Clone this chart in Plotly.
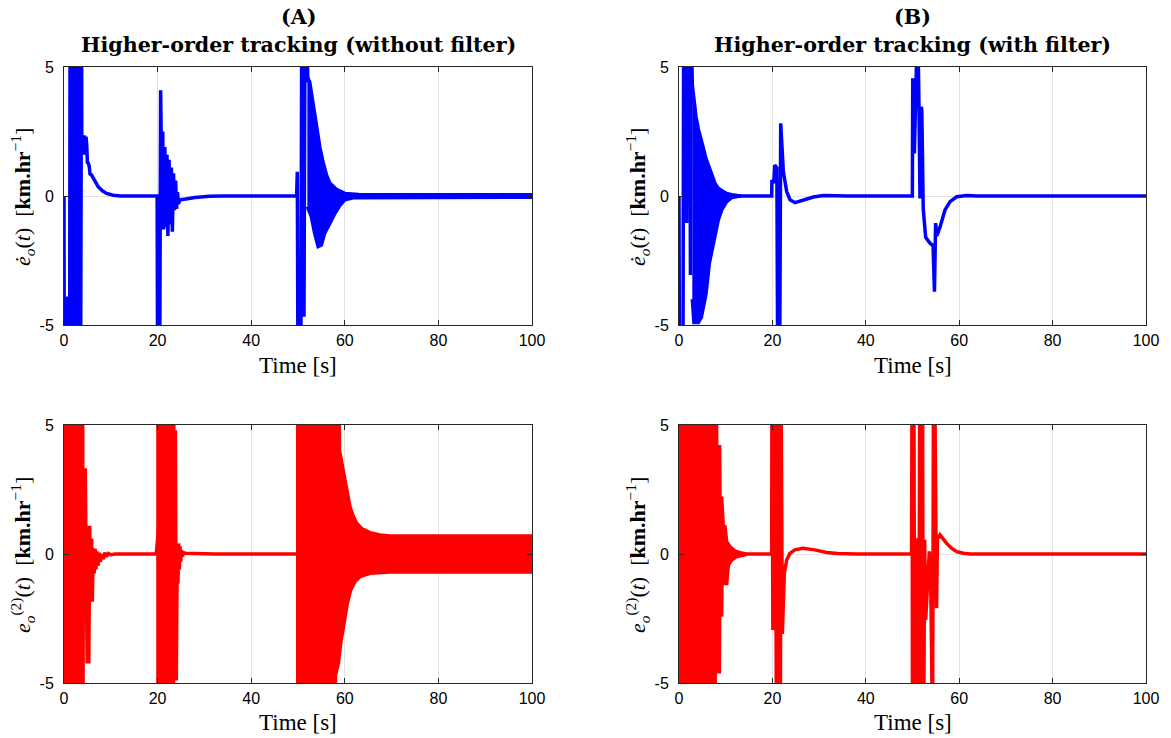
import plotly.graph_objects as go

# ---------------- Data ----------------
BLUE = "#0000FF"
RED = "#FF0000"

# Panel A (top): e_dot_o(t), without filter -- main trace
a_top_t = [0, 0.05, 0.6, 0.78, 0.95, 1.2, 1.3, 1.65, 1.75, 2.15, 2.25, 2.6, 2.7, 3.0, 3.1, 3.3, 3.4, 3.55, 3.65, 3.75,
           3.8, 4.0, 4.3, 4.5, 4.7, 4.85, 5.0, 5.2, 5.4, 5.56, 5.9, 6.3, 7.3, 8.2, 9.1, 10.5, 12, 19.9,
           20.0, 20.45, 20.65, 20.95, 21.1, 21.3, 21.55, 21.8, 22.0, 22.2, 22.45, 22.7, 22.95, 23.15, 23.4, 23.6,
           23.85, 24.05, 24.25, 24.45, 24.8, 26, 28, 31, 34,
           49.7, 49.85, 50.0, 50.6, 50.8, 51.0, 51.28, 51.5, 51.8, 52.1]
a_top_v = [0, -7, -7, -3.9, -7, -7, 7, 7, -7, -7, 7, 7, -7, -7, 7, 7, -7, -7, 7, 7,
           2.4, 1.6, 2.35, 1.6, 2.3, 2.0, 1.3, 1.27, 1.14, 0.85, 0.81, 0.68, 0.36, 0.2, 0.1, 0.03, 0, 0,
           -7, -7, 4.1, -0.5, 2.5, -1.3, 1.9, -1.2, 1.6, -1.55, 1.4, -1.1, 1.1, -1.38, 0.88, -0.55,
           0.6, -0.5, 0.15, -0.3, -0.15, -0.12, -0.06, -0.01, 0,
           0, 0.94, -7, -7, 7, 7, -4.68, 7, 7, 4.4]
# Panel A (top): envelope of the dense oscillation after t = 52 s
a_top_hi_t = [52.0, 52.5, 53.2, 53.9, 54.7, 55.4, 56.1, 56.8, 58.2, 60.0, 63, 100]
a_top_hi = [4.6, 4.43, 3.6, 2.75, 1.86, 1.28, 0.81, 0.5, 0.26, 0.1, 0.06, 0.05]
a_top_lo_t = [52.0, 52.85, 53.55, 54.3, 55.0, 55.7, 56.8, 57.9, 59.0, 60.0, 61.8, 100]
a_top_lo = [-0.41, -0.8, -1.44, -1.96, -1.9, -1.44, -1.06, -0.67, -0.35, -0.15, -0.07, -0.05]

# Panel B (top): e_dot_o(t), with filter -- main trace
b_top_t = [0, 0.1, 0.85, 1.0, 1.5, 1.64, 1.8, 2.3, 2.45, 2.6, 2.85, None,
           13.5, 19.85, 19.9, 20.3, 20.5, 20.95, 21.15, 21.55, 21.78, 22.34, 23.06, 23.77, 24.84, 26.63, 28.77,
           30.91, 33, 36,
           49.97, 50.05, 50.2, 50.4, 50.6, 51.1, 51.4, 51.6, 51.9, 52.0, 52.3, 52.6, 52.82, 53.75, 54.4, 54.7,
           54.95, 55.2, 55.9, 56.96, 58.04, 59.46, 61.6, 63.74, 100]
b_top_v = [0, -7, -7, 7, 7, -1.05, 7, 7, -3.06, 7, 4.3, None,
           0, 0, 0.62, 0.5, 1.2, 1.1, -7, -7, 2.82, 0.95, 0.17, -0.15, -0.26, -0.15, -0.04,
           0.02, 0.01, 0,
           0, 4.56, 4.4, 1.65, 7, 7, 3.3, -0.1, 3.46, 3.3, -0.5, -1.4, -1.6, -1.83, -1.92, -3.71,
           -1.05, -1.55, -1.2, -0.54, -0.22, -0.03, 0.02, 0, 0]
b_top_hi_t = [2.85, 3.2, 3.64, 4.14, 4.5, 4.78, 5.21, 5.78, 6.28, 6.5, 7.0, 7.35, 7.71, 8.42, 9.14, 9.5,
              10.2, 10.56, 11.28, 12.5, 13.5]
b_top_hi = [4.3, 3.6, 3.07, 2.6, 2.3, 2.05, 1.85, 1.45, 1.2, 1.05, 0.81, 0.65, 0.49, 0.3, 0.2, 0.17,
            0.1, 0.08, 0.05, 0.02, 0]
b_top_lo_t = [2.85, 3.2, 4.14, 4.78, 5.21, 5.78, 6.5, 7.35, 8.42, 9.14, 10.2, 11.28, 12.5, 13.5]
b_top_lo = [-4.0, -4.9, -4.9, -4.7, -4.4, -3.8, -2.6, -1.96, -0.93, -0.54, -0.22, -0.06, -0.02, 0]

# Panel A (bottom): e_o^(2)(t), without filter -- main trace
a_bot_t = [4.0, 4.2, 4.4, 4.55, 4.75, 4.95, 5.15, 5.3, 5.5, 5.7, 5.9, 6.05, 6.25, 6.45, 6.65, 6.85, 7.05,
           7.3, 7.55, 7.8, 8.1, 8.4, 8.7, 9.0, 9.5, 10, 11, 19.7,
           23.4, 23.6, 23.8, 24.0, 24.2, 24.35, 24.5, 24.65, 24.8, 24.95, 25.1, 25.3, 25.5, 26, 28, 32, 49.57]
a_bot_v = [-7, 3.32, -2.17, 3.32, -1.0, -4.24, 1.09, -4.24, 1.09, -1.85, 0.6, -1.85, 0.22, -0.75, 0.2, -0.6, 0.1,
           -0.45, 0.05, -0.3, 0.0, -0.2, 0.05, -0.1, 0.02, -0.03, 0, 0,
           7, -4.9, 4.8, -4.9, 0.41, -1.14, 0.41, -0.6, 0.3, -0.3, 0.15, -0.1, 0.05, 0.03, 0.02, 0, 0]
# dense bursts (envelopes)
a_bot_b1_t = [0, 4.0]
a_bot_b1_hi = [7, 7]
a_bot_b1_lo = [-7, -7]
a_bot_b2_t = [19.7, 23.4]
a_bot_b2_hi = [7, 7]
a_bot_b2_lo = [-7, -7]
a_bot_b3_hi_t = [49.57, 58.8, 58.85, 59.69, 60.4, 61.11, 61.82, 62.54, 63.6, 65.38, 67.52, 69.66, 100]
a_bot_b3_hi = [7, 7, 4.03, 3.19, 2.48, 1.83, 1.45, 1.19, 0.99, 0.83, 0.74, 0.70, 0.70]
a_bot_b3_lo_t = [49.57, 57.9, 58.0, 58.62, 59.12, 59.83, 60.54, 61.25, 62.17, 63.25, 65.38, 69.66, 100]
a_bot_b3_lo = [-7, -7, -4.7, -4.24, -3.46, -2.69, -1.91, -1.40, -1.07, -0.88, -0.75, -0.70, -0.70]

# Panel B (bottom): e_o^(2)(t), with filter
b_bot_hi_t = [0, 8.0, 8.07, 8.7, 8.78, 9.14, 9.49, 9.85, 10.21, 10.92, 11.99, 13.06, 14.49]
b_bot_hi = [7, 7, 4.16, 4.16, 2.16, 2.16, 1.06, 1.06, 0.48, 0.28, 0.12, 0.05, 0.0]
b_bot_lo_t = [0, 7.71, 7.75, 8.64, 8.7, 9.14, 9.2, 10.21, 10.56, 11.28, 12.35, 13.78, 14.49]
b_bot_lo = [-7, -7, -4.56, -4.56, -2.36, -2.36, -1.14, -1.14, -0.44, -0.23, -0.1, -0.05, 0]
b_bot_t = [14.49, 19.85, 19.9, 20.1, 20.45, 20.65, 20.85, 21.1, 21.3, 21.55, 21.7, 21.85, 22.13, 22.55,
           23.05, 23.77, 24.84, 26.5, 29.1, 31.6, 34, 38,
           49.8, 49.9, 50.0, 50.1, 50.2, 50.3, 50.45, 50.6, 50.75, 50.9, 51.1, 51.35, 51.55, 51.7, 51.85,
           52.0, 52.15, 52.3, 52.4, 52.6, 52.82, 53.6, 53.9, 54.3, 54.5, 54.75, 54.9, 55.15, 55.35, 55.6,
           55.9, 56.6, 57.31, 58.39, 59.46, 60.89, 62.3, 100]
b_bot_v = [0, 0, 7, -2.95, 4.4, 7, -7, 7, -7, 7, -7, 7, -3.1, -0.75,
           -0.23, 0.03, 0.16, 0.22, 0.16, 0.06, 0.02, 0,
           0, 7, -7, 7, -7, 7, -7, 0.5, -7, -7, 0.61, -7, 7, -7, 7,
           -7, 7, -7, -7, 0.55, -2.56, 0.1, -1.0, -7, 7, 7, 3.64, -2.1, 0.74, 0.62,
           0.74, 0.58, 0.41, 0.22, 0.09, 0.03, 0, 0]

x_ticks = [0, 20, 40, 60, 80, 100]
y_ticks = [-5, 0, 5]
x_tick_text = ["0", "20", "40", "60", "80", "100"]
y_tick_text = ["-5", "0", "5"]

titles_top = ["(A)", "(B)"]
titles_sub = ["Higher-order tracking (without filter)", "Higher-order tracking (with filter)"]
ylab_top = "<i>ė</i><sub><i>o</i></sub>(<i>t</i>)  [<b>km.hr</b><sup>−1</sup>]"
ylab_bot = "<i>e</i><sub><i>o</i></sub><sup>(2)</sup>(<i>t</i>)  [<b>km.hr</b><sup>−1</sup>]"
xlab = "Time [s]"

# ---------------- Figure ----------------
LW = 3.5
fig = go.Figure()


def add_line(t, v, color, ax):
    fig.add_trace(go.Scatter(x=t, y=v, mode="lines", line=dict(color=color, width=LW),
                             connectgaps=False, hoverinfo="skip", showlegend=False,
                             xaxis="x" + ax, yaxis="y" + ax))


def add_band(hi_t, hi, lo_t, lo, color, ax):
    xs = list(hi_t) + list(lo_t)[::-1]
    ys = list(hi) + list(lo)[::-1]
    fig.add_trace(go.Scatter(x=xs, y=ys, mode="lines", fill="toself", fillcolor=color,
                             line=dict(color=color, width=LW), hoverinfo="skip", showlegend=False,
                             xaxis="x" + ax, yaxis="y" + ax))


# A top -> axis "" ; B top -> "2" ; A bottom -> "3" ; B bottom -> "4"
add_band(a_top_hi_t, a_top_hi, a_top_lo_t, a_top_lo, BLUE, "")
add_line(a_top_t, a_top_v, BLUE, "")

add_band(b_top_hi_t, b_top_hi, b_top_lo_t, b_top_lo, BLUE, "2")
add_line(b_top_t, b_top_v, BLUE, "2")

add_band(a_bot_b1_t, a_bot_b1_hi, a_bot_b1_t, a_bot_b1_lo, RED, "3")
add_band(a_bot_b2_t, a_bot_b2_hi, a_bot_b2_t, a_bot_b2_lo, RED, "3")
add_band(a_bot_b3_hi_t, a_bot_b3_hi, a_bot_b3_lo_t, a_bot_b3_lo, RED, "3")
add_line(a_bot_t, a_bot_v, RED, "3")

add_band(b_bot_hi_t, b_bot_hi, b_bot_lo_t, b_bot_lo, RED, "4")
add_line(b_bot_t, b_bot_v, RED, "4")

W, H = 1171, 738
xA = [64 / W, 532 / W]
xB = [679 / W, 1146 / W]
yT = [1 - 325 / H, 1 - 67 / H]
yB = [1 - 683 / H, 1 - 425 / H]

tickfont = dict(family="Liberation Sans, Arial, sans-serif", size=16, color="#000000")
axcommon = dict(showgrid=True, gridcolor="#e2e2e2", gridwidth=1, zeroline=False, showline=True,
                linecolor="#262626", linewidth=1, mirror="ticks", ticks="inside", ticklen=5,
                tickcolor="#262626", tickfont=tickfont, fixedrange=True, automargin=False)


def xax(domain, anchor):
    return dict(domain=domain, anchor=anchor, range=[0, 100], tickmode="array", tickvals=x_ticks,
                ticktext=x_tick_text, ticklabelstandoff=1, **axcommon)


def yax(domain, anchor):
    return dict(domain=domain, anchor=anchor, range=[-5, 5], tickmode="array", tickvals=y_ticks,
                ticktext=y_tick_text, ticklabelstandoff=6, **axcommon)


fig.update_layout(
    width=W, height=H, margin=dict(l=0, r=0, t=0, b=0, pad=0, autoexpand=False),
    paper_bgcolor="white", plot_bgcolor="white", showlegend=False,
    xaxis=xax(xA, "y"), yaxis=yax(yT, "x"),
    xaxis2=xax(xB, "y2"), yaxis2=yax(yT, "x2"),
    xaxis3=xax(xA, "y3"), yaxis3=yax(yB, "x3"),
    xaxis4=xax(xB, "y4"), yaxis4=yax(yB, "x4"),
)

serif = "Liberation Serif, Times New Roman, serif"
bold_serif = "DejaVu Serif, serif"
ann = []
for i, xc in enumerate([(xA[0] + xA[1]) / 2, (xB[0] + xB[1]) / 2]):
    ann.append(dict(text="<b>" + titles_top[i] + "</b>", x=xc, y=1 - 17 / H, xref="paper", yref="paper",
                    showarrow=False, font=dict(family=bold_serif, size=20.6, color="black"),
                    xanchor="center", yanchor="middle"))
    ann.append(dict(text="<b>" + titles_sub[i] + "</b>", x=xc, y=1 - 45 / H, xref="paper", yref="paper",
                    showarrow=False, font=dict(family=bold_serif, size=20.6, color="black"),
                    xanchor="center", yanchor="middle"))
    for yc in [1 - 366 / H, 1 - 722 / H]:
        ann.append(dict(text=xlab, x=xc, y=yc, xref="paper", yref="paper", showarrow=False,
                        font=dict(family=serif, size=23, color="black"), xanchor="center", yanchor="middle"))
for xc in [22 / W, 637 / W]:
    ann.append(dict(text=ylab_top, x=xc, y=1 - 197 / H, xref="paper", yref="paper", showarrow=False,
                    textangle=-90, font=dict(family=serif, size=22, color="black"),
                    xanchor="center", yanchor="middle"))
    ann.append(dict(text=ylab_bot, x=xc, y=1 - 555 / H, xref="paper", yref="paper", showarrow=False,
                    textangle=-90, font=dict(family=serif, size=22, color="black"),
                    xanchor="center", yanchor="middle"))
fig.update_layout(annotations=ann)

fig.write_html("out.html")
